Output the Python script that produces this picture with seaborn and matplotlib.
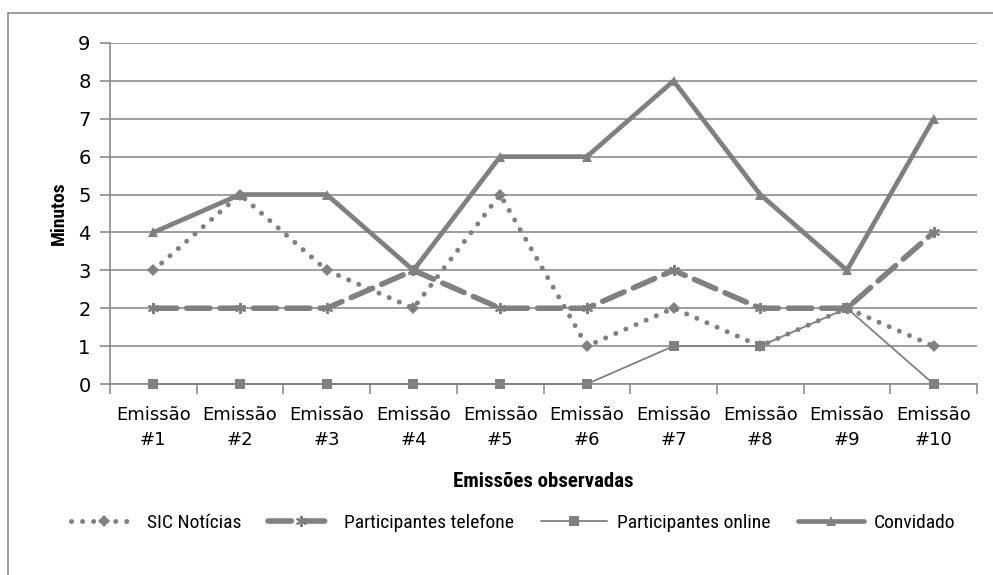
import matplotlib
matplotlib.use("Agg")
import matplotlib.pyplot as plt
import seaborn as sns
import pandas as pd
from matplotlib.patches import Rectangle

categories = ["Emissão\n#1", "Emissão\n#2", "Emissão\n#3", "Emissão\n#4", "Emissão\n#5",
              "Emissão\n#6", "Emissão\n#7", "Emissão\n#8", "Emissão\n#9", "Emissão\n#10"]
sic_noticias = [3, 5, 3, 2, 5, 1, 2, 1, 2, 1]
part_telefone = [2, 2, 2, 3, 2, 2, 3, 2, 2, 4]
part_online = [0, 0, 0, 0, 0, 0, 1, 1, 2, 0]
convidado = [4, 5, 5, 3, 6, 6, 8, 5, 3, 7]
y_ticks = list(range(0, 10))

sns.set_theme(style="white")
plt.rcParams["font.family"] = ["DejaVu Sans"]
plt.rcParams["text.color"] = "black"
plt.rcParams["axes.labelcolor"] = "black"
plt.rcParams["xtick.color"] = "black"
plt.rcParams["ytick.color"] = "black"

narrow = ["Roboto Condensed", "Archivo Narrow", "DejaVu Sans"]
grey = "#808080"
axis_grey = "#8c8c8c"

fig = plt.figure(figsize=(9.93, 5.75), dpi=100)
ax = fig.add_axes([110 / 993, 1 - 384 / 575, 867 / 993, 341 / 575])

pos = [i + 0.5 for i in range(len(categories))]
df = pd.DataFrame({"pos": pos, "SIC Notícias": sic_noticias,
                   "Participantes telefone": part_telefone,
                   "Participantes online": part_online, "Convidado": convidado})

sns.lineplot(data=df, x="pos", y="SIC Notícias", ax=ax, color=grey, lw=3.6,
             linestyle=(0, (0.01, 2.2)), dash_capstyle="round", marker="D", markersize=6,
             markeredgewidth=0, label="SIC Notícias", clip_on=False, zorder=3)
sns.lineplot(data=df, x="pos", y="Participantes telefone", ax=ax, color=grey, lw=4,
             linestyle=(0, (4.2, 1.8)), dash_capstyle="round", marker=(6, 2, 0), markersize=8,
             markeredgewidth=1.5, markeredgecolor=grey, label="Participantes telefone",
             clip_on=False, zorder=3)
sns.lineplot(data=df, x="pos", y="Participantes online", ax=ax, color=grey, lw=1.3,
             marker="s", markersize=6.5, markeredgewidth=0, label="Participantes online",
             clip_on=False, zorder=3)
sns.lineplot(data=df, x="pos", y="Convidado", ax=ax, color=grey, lw=3.4,
             marker="^", markersize=7, markeredgewidth=0, label="Convidado",
             clip_on=False, zorder=3)

ax.set_xlim(0, 10)
ax.set_ylim(0, 9)
ax.set_yticks(y_ticks)
ax.set_yticklabels([str(v) for v in y_ticks], fontsize=14)
ax.set_xticks(range(0, 11))
ax.set_xticklabels([])
ax.set_xticks(pos, minor=True)
ax.set_xticklabels(categories, minor=True, fontsize=13, linespacing=1.45)
ax.tick_params(axis="x", which="major", direction="out", length=7, width=1.2, color=axis_grey, bottom=True)
ax.tick_params(axis="x", which="minor", length=0, pad=16)
ax.tick_params(axis="y", direction="out", length=7, width=1.2, color=axis_grey, left=True, pad=7)
ax.grid(axis="y", color=axis_grey, lw=1.2)
ax.set_axisbelow(True)
for s in ["top", "right"]:
    ax.spines[s].set_visible(False)
for s in ["left", "bottom"]:
    ax.spines[s].set_color(axis_grey)
    ax.spines[s].set_linewidth(1.2)
    ax.spines[s].set_zorder(1)

ax.set_xlabel("Emissões observadas", fontsize=15, fontweight="bold", family=narrow, labelpad=17)
ax.set_ylabel("Minutos", fontsize=14, fontweight="bold", family=narrow, labelpad=7)

ax.legend(loc="center", bbox_to_anchor=(513 / 993, 1 - 523 / 575), bbox_transform=fig.transFigure,
          ncol=4, frameon=False, prop={"family": narrow, "size": 14}, handlelength=3.4,
          handletextpad=0.5, columnspacing=1.4)

fig.patches.append(Rectangle((8 / 993, -0.01), 1.0, 1 - 13 / 575 + 0.01, transform=fig.transFigure,
                             fill=False, edgecolor=axis_grey, lw=1.2))

fig.savefig("out.png", dpi=100, facecolor="white")
